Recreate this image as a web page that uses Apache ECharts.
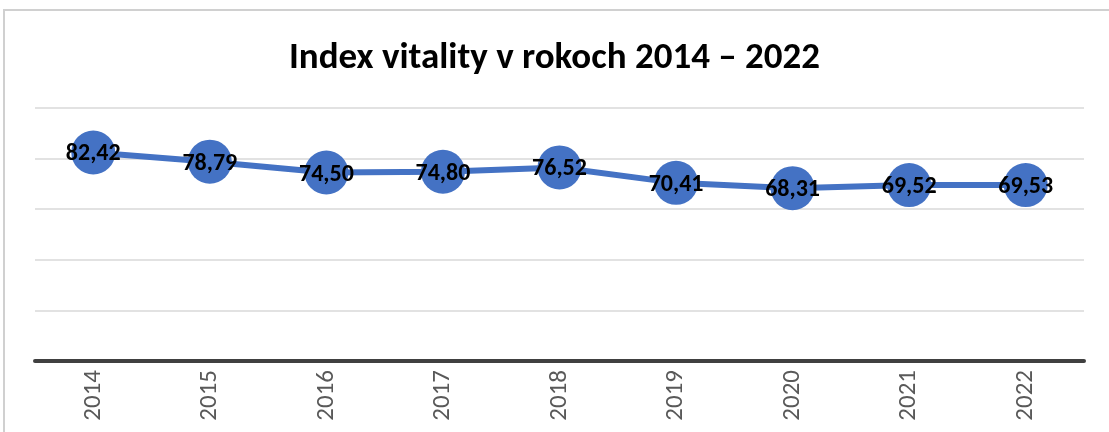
<!DOCTYPE html>
<html>
<head>
<meta charset="utf-8">
<script src="https://cdn.jsdelivr.net/npm/echarts@6/dist/echarts.min.js"></script>
<style>
  html, body { margin: 0; padding: 0; background: #fff; }
  #chart { width: 1109px; height: 432px; }
</style>
</head>
<body>
<div id="chart"></div>
<script>
// roky a hodnoty indexu vitality
let years = ["2014", "2015", "2016", "2017", "2018", "2019", "2020", "2021", "2022"];
let vitality = [82.42, 78.79, 74.50, 74.80, 76.52, 70.41, 68.31, 69.52, 69.53];
let titleText = "Index vitality v rokoch 2014 \u2013 2022";

let myChart = echarts.init(document.getElementById('chart'));

let option = {
    animation: false,
    backgroundColor: '#ffffff',
    title: {
        text: titleText,
        left: 'center',
        top: 35,
        textStyle: {
            fontFamily: 'Carlito, Lato, sans-serif',
            fontWeight: 'bold',
            fontSize: 37,
            color: '#000000'
        }
    },
    graphic: [{
        // ramcek okolo grafu
        type: 'rect',
        shape: { x: 4, y: 10, width: 1200, height: 500 },
        style: { fill: 'none', stroke: '#d0d0d0', lineWidth: 2 },
        silent: true
    }],
    grid: {
        left: 35,
        right: 25,
        top: 108,
        bottom: 71
    },
    xAxis: {
        type: 'category',
        data: years,
        boundaryGap: true,
        axisLine: { lineStyle: { color: '#404040', width: 4 } },
        axisTick: { show: false },
        axisLabel: {
            rotate: 90,
            margin: 9,
            color: '#595959',
            fontSize: 25,
            fontFamily: 'Carlito, "Open Sans", sans-serif'
        }
    },
    yAxis: {
        type: 'value',
        min: 0,
        max: 100,
        interval: 20,
        axisLabel: { show: false },
        axisLine: { show: false },
        axisTick: { show: false },
        splitLine: { lineStyle: { color: '#d9d9d9', width: 1.5 } }
    },
    series: [{
        type: 'line',
        data: vitality,
        symbol: 'circle',
        symbolSize: 44,
        itemStyle: { color: '#4472c4' },
        lineStyle: { color: '#4472c4', width: 6 },
        label: {
            show: true,
            position: 'inside',
            offset: [0, 2],
            color: '#000000',
            fontWeight: 'bold',
            fontSize: 24,
            fontFamily: 'Carlito, Lato, sans-serif',
            formatter: function (p) {
                return p.value.toFixed(2).replace('.', ',');
            }
        }
    }]
};

myChart.setOption(option);
</script>
</body>
</html>
